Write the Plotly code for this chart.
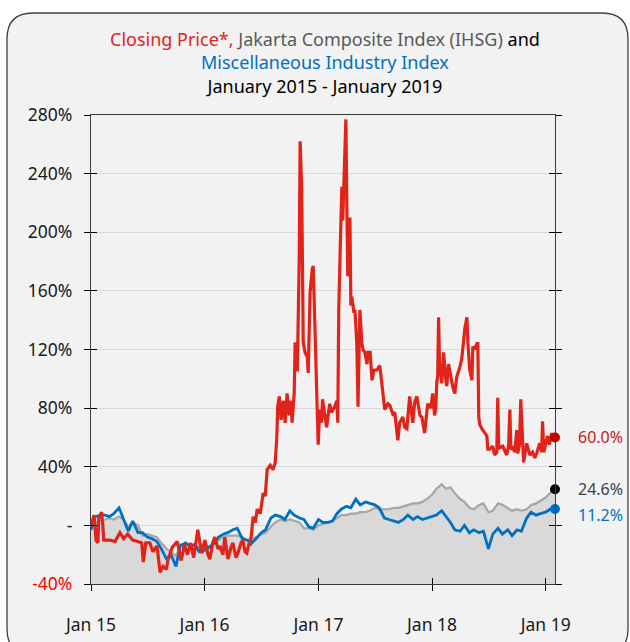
import plotly.graph_objects as go
import pandas as pd

# ---------------- data ----------------
grid_dates = list(pd.date_range("2015-01-01", "2019-01-15", freq="SMS").strftime("%Y-%m-%d")) + ["2019-01-31"]

ihsg = [0, 2, 3, 4, 5, 4, 6, 4, -1, 2, 0, -7, -6, -7, -8, -12, -16, -18, -21, -13, -13, -14, -14, -15,
        -12, -15, -13, -10, -8, -7, -7, -7, -8, -10, -9, -8, -6, -5, -1, 2, 4, 3, 4, 3, 2, -2, -2, -3,
        0, 1, 2, 3, 5, 7, 7, 8, 8, 9, 9, 10, 12, 11, 11, 11, 12, 12, 13, 14, 15, 15, 16, 18,
        21, 25, 28, 25, 26, 22, 18, 16, 12, 11, 14, 15, 9, 10, 15, 14, 12, 10, 11, 10, 11, 14, 15, 17,
        19, 22, 24.6]

misc = [-3, 6, 7, 7, 6, 8, 12, 4, -4, 3, -5, -5, -8, -9, -11, -16, -23, -20, -28, -14, -12, -14, -13, -18,
        -17, -15, -12, -8, -6, -5, -3, -2, -9, -10, -12, -9, -5, -3, 5, 7, 6, 4, 10, 7, 5, 4, -1, -2,
        4, 2, 2, 3, 8, 11, 13, 12, 18, 14, 16, 15, 14, 12, 5, 4, 3, 2, 4, 7, 4, 6, 4, 5,
        6, 7, 10, 6, 2, -3, -4, 0, -5, -3, -5, -4, -16, -6, -2, -6, -3, -7, -3, -4, 5, 9, 7, 8,
        9, 11, 11.2]

price_dates = [
    "2015-01-01", "2015-01-11", "2015-01-17", "2015-01-23", "2015-01-26", "2015-02-04", "2015-02-08", "2015-02-11",
    "2015-03-03", "2015-03-19", "2015-04-04", "2015-04-16", "2015-04-29", "2015-05-15", "2015-05-31", "2015-06-13",
    "2015-06-18", "2015-06-26", "2015-07-09", "2015-07-19", "2015-08-01", "2015-08-11", "2015-08-21", "2015-08-31",
    "2015-09-06", "2015-09-19", "2015-10-05", "2015-10-18", "2015-10-28", "2015-11-07", "2015-11-17", "2015-11-27",
    "2015-12-10", "2015-12-19", "2015-12-23",
    "2016-01-02", "2016-01-12", "2016-01-18", "2016-01-27", "2016-02-03", "2016-02-13", "2016-02-19", "2016-02-29",
    "2016-03-06", "2016-03-16", "2016-03-26", "2016-04-01", "2016-04-11", "2016-04-17", "2016-04-27", "2016-05-03",
    "2016-05-10", "2016-05-16", "2016-05-23", "2016-05-26", "2016-05-31", "2016-06-05", "2016-06-12", "2016-06-18",
    "2016-06-28", "2016-07-07", "2016-07-14", "2016-07-20", "2016-07-30", "2016-08-08", "2016-08-15", "2016-08-20",
    "2016-08-23", "2016-08-28", "2016-09-03", "2016-09-10", "2016-09-16", "2016-09-22", "2016-09-29", "2016-10-05",
    "2016-10-08", "2016-10-15", "2016-10-18", "2016-10-25", "2016-10-31", "2016-11-03", "2016-11-08", "2016-11-13",
    "2016-11-19", "2016-11-26", "2016-11-29", "2016-12-05", "2016-12-12", "2016-12-15", "2016-12-18", "2016-12-22",
    "2016-12-28", "2016-12-31",
    "2017-01-05", "2017-01-11", "2017-01-14", "2017-01-21", "2017-01-27", "2017-02-06", "2017-02-12", "2017-02-22",
    "2017-03-01", "2017-03-04", "2017-03-07", "2017-03-12", "2017-03-17", "2017-03-20", "2017-03-30", "2017-04-02",
    "2017-04-05", "2017-04-09", "2017-04-12", "2017-04-15", "2017-04-18", "2017-04-25", "2017-04-28", "2017-05-04",
    "2017-05-08", "2017-05-14", "2017-05-20", "2017-05-24", "2017-05-30", "2017-06-06", "2017-06-09", "2017-06-16",
    "2017-06-22", "2017-06-28", "2017-07-08", "2017-07-17", "2017-07-24", "2017-08-02", "2017-08-12", "2017-08-18",
    "2017-08-28", "2017-09-03", "2017-09-13", "2017-09-19", "2017-09-29", "2017-10-05", "2017-10-12", "2017-10-21",
    "2017-10-28", "2017-10-31", "2017-11-06", "2017-11-13", "2017-11-23", "2017-11-29", "2017-12-08", "2017-12-15",
    "2017-12-18", "2017-12-28",
    "2018-01-03", "2018-01-09", "2018-01-13", "2018-01-16", "2018-01-19", "2018-01-22", "2018-01-25", "2018-02-01",
    "2018-02-07", "2018-02-14", "2018-02-17", "2018-02-23", "2018-02-26", "2018-03-08", "2018-03-15", "2018-03-21",
    "2018-03-31", "2018-04-06", "2018-04-10", "2018-04-16", "2018-04-23", "2018-04-26", "2018-05-02", "2018-05-09",
    "2018-05-12", "2018-05-18", "2018-05-25", "2018-05-28", "2018-05-31", "2018-06-03", "2018-06-10", "2018-06-20",
    "2018-06-26", "2018-06-29", "2018-07-05", "2018-07-15", "2018-07-21", "2018-07-28", "2018-07-31", "2018-08-03",
    "2018-08-06", "2018-08-16", "2018-08-29", "2018-09-04", "2018-09-08", "2018-09-11", "2018-09-17", "2018-09-24",
    "2018-09-30", "2018-10-03", "2018-10-09", "2018-10-13", "2018-10-19", "2018-10-22", "2018-11-01", "2018-11-11",
    "2018-11-20", "2018-11-27", "2018-12-03", "2018-12-13", "2018-12-19", "2018-12-22", "2018-12-26", "2018-12-29",
    "2019-01-07", "2019-01-13", "2019-01-20", "2019-01-26", "2019-01-31"]

price = [
    0, 7, -10, -12, 5, 9, 0, -10,
    -10, -11, -5, -9, -6, -10, -11, -12,
    -25, -12, -12, -18, -14, -32, -28, -30,
    -23, -15, -11, -24, -13, -20, -12, -22,
    -3, -16, -19,
    -10, -20, -23, -12, -8, -16, -14, -20,
    -8, -23, -15, -12, -22, -19, -12, -10,
    -18, -19, -12, -14, -5, 6, 2, 11,
    8, 22, 20, 38, 41, 38, 43, 60,
    81, 88, 72, 85, 70, 90, 75, 85,
    70, 90, 125, 105, 180, 262, 230, 125,
    118, 115, 104, 159, 175, 177, 155, 124,
    70, 55,
    79, 70, 86, 75, 67, 83, 77, 81,
    85, 70, 147, 190, 231, 208, 277, 220,
    170, 200, 210, 150, 156, 145, 147, 125,
    81, 147, 125, 120, 118, 110, 118, 118,
    99, 106, 106, 109, 95, 79, 83, 82,
    76, 77, 58, 70, 74, 67, 66, 88,
    75, 70, 84, 88, 75, 74, 63, 76,
    83, 80,
    90, 75, 80, 97, 102, 142, 110, 97,
    118, 100, 95, 110, 106, 95, 90, 101,
    108, 113, 121, 134, 142, 125, 106, 99,
    122, 120, 124, 124, 74, 69, 66, 63,
    61, 52, 52, 54, 48, 50, 87, 55,
    53, 54, 48, 55, 79, 52, 53, 50,
    65, 49, 55, 86, 50, 43, 56, 48,
    50, 46, 49, 56, 50, 71, 50, 53,
    61, 55, 63, 58, 60]

y_ticks = [-40, 0, 40, 80, 120, 160, 200, 240, 280]
y_ticklabels = ["<span style='color:#ff0000'>-40%</span>", "-", "40%", "80%", "120%", "160%", "200%", "240%", "280%"]
x_ticks = ["2015-01-01", "2016-01-01", "2017-01-01", "2018-01-01", "2019-01-01"]
x_ticklabels = ["Jan 15", "Jan 16", "Jan 17", "Jan 18", "Jan 19"]

title_text = ("<span style='color:#e2231a'>Closing Price*,</span> "
              "<span style='color:#595959'>Jakarta Composite Index (IHSG)</span> and<br>"
              "<span style='color:#0070c0'>Miscellaneous Industry Index</span><br>"
              "January 2015 - January 2019")
end_labels = ["60.0%", "24.6%", "11.2%"]

RED = "#e2231a"
BLUE = "#0070c0"
GRAY_LINE = "#a6a6a6"
GRAY_FILL = "#d9d9d9"
FONT = "Noto Sans, Open Sans, sans-serif"
TXT = "#1a1a1a"

# ---------------- figure ----------------
fig = go.Figure()

fig.add_trace(go.Scatter(x=[grid_dates[0], grid_dates[-1]], y=[-40, -40], mode="lines",
                         line=dict(width=0, color=GRAY_FILL), hoverinfo="skip", showlegend=False))
fig.add_trace(go.Scatter(x=grid_dates, y=ihsg, mode="lines", fill="tonexty", fillcolor=GRAY_FILL,
                         line=dict(color=GRAY_LINE, width=2.2), name="IHSG", showlegend=False))
fig.add_trace(go.Scatter(x=grid_dates, y=misc, mode="lines",
                         line=dict(color=BLUE, width=2.8), name="Misc", showlegend=False))
fig.add_trace(go.Scatter(x=price_dates, y=price, mode="lines",
                         line=dict(color=RED, width=3.2), name="Price", showlegend=False))
fig.add_trace(go.Scatter(x=[price_dates[-1]], y=[price[-1]], mode="markers", cliponaxis=False,
                         marker=dict(size=10, color="#c00000"), showlegend=False))
fig.add_trace(go.Scatter(x=[grid_dates[-1]], y=[ihsg[-1]], mode="markers", cliponaxis=False,
                         marker=dict(size=10, color="#000000"), showlegend=False))
fig.add_trace(go.Scatter(x=[grid_dates[-1]], y=[misc[-1]], mode="markers", cliponaxis=False,
                         marker=dict(size=10, color=BLUE), showlegend=False))
fig.add_trace(go.Scatter(x=[grid_dates[0]], y=[0], xaxis="x2", yaxis="y2", mode="markers",
                         marker=dict(opacity=0), hoverinfo="skip", showlegend=False))

# ---------------- layout ----------------
L, R, T, B = 91, 555, 115, 584
W, H = R - L, B - T


def px(x):
    return (x - L) / W


def py(y):
    return (B - y) / H


x0, x1, y0, y1, r = 7, 628, 13, 655, 26
path = (f"M {px(x0 + r)},{py(y0)} L {px(x1 - r)},{py(y0)} Q {px(x1)},{py(y0)} {px(x1)},{py(y0 + r)} "
        f"L {px(x1)},{py(y1 - r)} Q {px(x1)},{py(y1)} {px(x1 - r)},{py(y1)} "
        f"L {px(x0 + r)},{py(y1)} Q {px(x0)},{py(y1)} {px(x0)},{py(y1 - r)} "
        f"L {px(x0)},{py(y0 + r)} Q {px(x0)},{py(y0)} {px(x0 + r)},{py(y0)} Z")

xr = ["2015-01-01", "2019-01-31"]
yr = [-40, 280]

annotations = [dict(text=title_text, xref="paper", x=px(325), xanchor="center",
                    yref="paper", y=py(62.5), yanchor="middle", showarrow=False,
                    font=dict(family=FONT, size=18, color="#000000"))]
for txt, yv, col in zip(end_labels, [price[-1], ihsg[-1], 7.3], ["#c8201a", "#404040", BLUE]):
    annotations.append(dict(text=txt, xref="paper", x=px(576), xanchor="left", yref="y", y=yv,
                            showarrow=False, font=dict(family=FONT, size=16, color=col)))

fig.update_layout(
    width=630, height=642,
    margin=dict(l=L, r=630 - R, t=T, b=642 - B),
    paper_bgcolor="white",
    plot_bgcolor="rgba(0,0,0,0)",
    font=dict(family=FONT, color=TXT, size=17),
    shapes=[dict(type="path", xref="paper", yref="paper", path=path, layer="below",
                 fillcolor="#f2f2f2", line=dict(color="#404040", width=1.3))],
    xaxis=dict(range=xr, tickvals=x_ticks, ticktext=x_ticklabels, ticks="outside", ticklen=6,
               tickcolor="#000000", showline=True, linecolor="#3a3a3a", linewidth=1.3, mirror=True,
               showgrid=False, zeroline=False, ticklabelstandoff=19, automargin=False,
               tickfont=dict(size=17.5, color=TXT)),
    yaxis=dict(range=yr, tickvals=y_ticks, ticktext=y_ticklabels, ticks="outside", ticklen=6,
               tickcolor="#000000", showline=True, linecolor="#3a3a3a", linewidth=1.3, mirror="ticks",
               showgrid=True, gridcolor="#dadada", gridwidth=1.2, zeroline=False, automargin=False,
               ticklabelstandoff=8, tickfont=dict(size=17.5, color=TXT)),
    xaxis2=dict(matches="x", overlaying="x", range=xr, tickvals=x_ticks, ticks="inside", ticklen=6,
                tickcolor="#000000", showticklabels=False, showgrid=False, showline=False,
                zeroline=False, automargin=False),
    yaxis2=dict(matches="y", overlaying="y", range=yr, tickvals=y_ticks, ticks="inside", ticklen=6,
                tickcolor="#000000", showticklabels=False, showgrid=False, showline=False,
                zeroline=False, mirror="ticks", automargin=False),
    annotations=annotations,
)

fig.write_html("out.html", config={"displayModeBar": False},
               post_script="document.body.style.margin='0';document.body.style.padding='0';")
